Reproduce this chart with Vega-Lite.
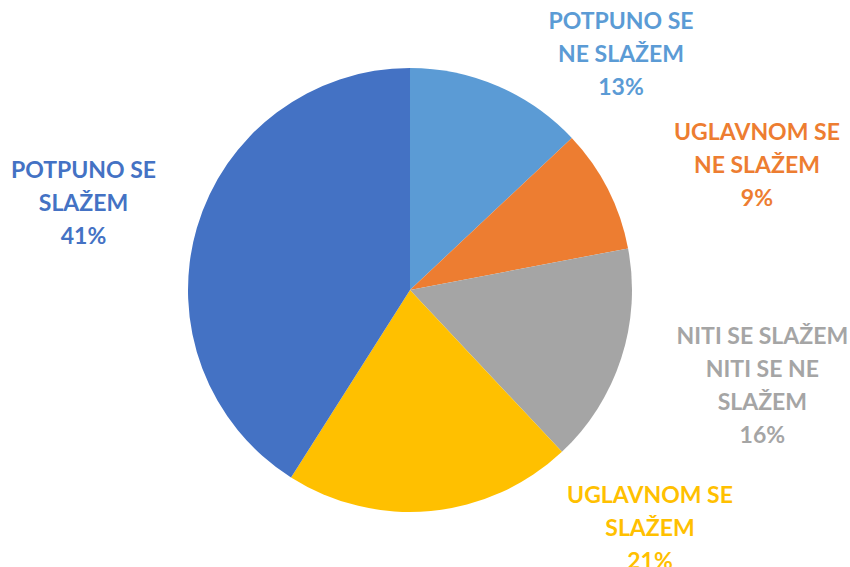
{
  "$schema": "https://vega.github.io/schema/vega-lite/v6.json",
  "width": 820,
  "height": 554,
  "autosize": {"type": "none"},
  "padding": {"left": 0, "top": 13, "right": 30, "bottom": 0},
  "background": "white",
  "config": {"view": {"stroke": null}},
  "data": {
    "values": [
      {"category": "POTPUNO SE NE SLAŽEM", "label": "POTPUNO SE\nNE SLAŽEM\n13%", "value": 13, "order": 1},
      {"category": "UGLAVNOM SE NE SLAŽEM", "label": "UGLAVNOM SE\nNE SLAŽEM\n9%", "value": 9, "order": 2},
      {"category": "NITI SE SLAŽEM NITI SE NE SLAŽEM", "label": "NITI SE SLAŽEM\nNITI SE NE\nSLAŽEM\n16%", "value": 16, "order": 3},
      {"category": "UGLAVNOM SE SLAŽEM", "label": "UGLAVNOM SE\nSLAŽEM\n21%", "value": 21, "order": 4},
      {"category": "POTPUNO SE SLAŽEM", "label": "POTPUNO SE\nSLAŽEM\n41%", "value": 41, "order": 5}
    ]
  },
  "encoding": {
    "theta": {"field": "value", "type": "quantitative", "stack": true},
    "order": {"field": "order", "type": "quantitative"},
    "color": {
      "field": "category",
      "type": "nominal",
      "legend": null,
      "scale": {
        "domain": ["POTPUNO SE NE SLAŽEM", "UGLAVNOM SE NE SLAŽEM", "NITI SE SLAŽEM NITI SE NE SLAŽEM", "UGLAVNOM SE SLAŽEM", "POTPUNO SE SLAŽEM"],
        "range": ["#5B9BD5", "#ED7D31", "#A5A5A5", "#FFC000", "#4472C4"]
      }
    }
  },
  "layer": [
    {"mark": {"type": "arc", "outerRadius": 222}},
    {
      "mark": {"type": "text", "radius": 340, "dx": 76, "dy": 44, "font": "Lato", "fontWeight": "bold", "fontSize": 23, "lineBreak": "\n", "lineHeight": 33, "align": "center", "baseline": "middle"},
      "encoding": {"text": {"condition": {"test": "datum.order == 1", "field": "label"}, "value": ""}}
    },
    {
      "mark": {"type": "text", "radius": 340, "dx": 44, "dy": -3, "font": "Lato", "fontWeight": "bold", "fontSize": 23, "lineBreak": "\n", "lineHeight": 33, "align": "center", "baseline": "middle"},
      "encoding": {"text": {"condition": {"test": "datum.order == 2", "field": "label"}, "value": ""}}
    },
    {
      "mark": {"type": "text", "radius": 340, "dx": 29, "dy": -58, "font": "Lato", "fontWeight": "bold", "fontSize": 23, "lineBreak": "\n", "lineHeight": 33, "align": "center", "baseline": "middle"},
      "encoding": {"text": {"condition": {"test": "datum.order == 3", "field": "label"}, "value": ""}}
    },
    {
      "mark": {"type": "text", "radius": 340, "dx": 208, "dy": -132, "font": "Lato", "fontWeight": "bold", "fontSize": 23, "lineBreak": "\n", "lineHeight": 33, "align": "center", "baseline": "middle"},
      "encoding": {"text": {"condition": {"test": "datum.order == 4", "field": "label"}, "value": ""}}
    },
    {
      "mark": {"type": "text", "radius": 340, "dx": 0, "dy": -24, "font": "Lato", "fontWeight": "bold", "fontSize": 23, "lineBreak": "\n", "lineHeight": 33, "align": "center", "baseline": "middle"},
      "encoding": {"text": {"condition": {"test": "datum.order == 5", "field": "label"}, "value": ""}}
    }
  ]
}
